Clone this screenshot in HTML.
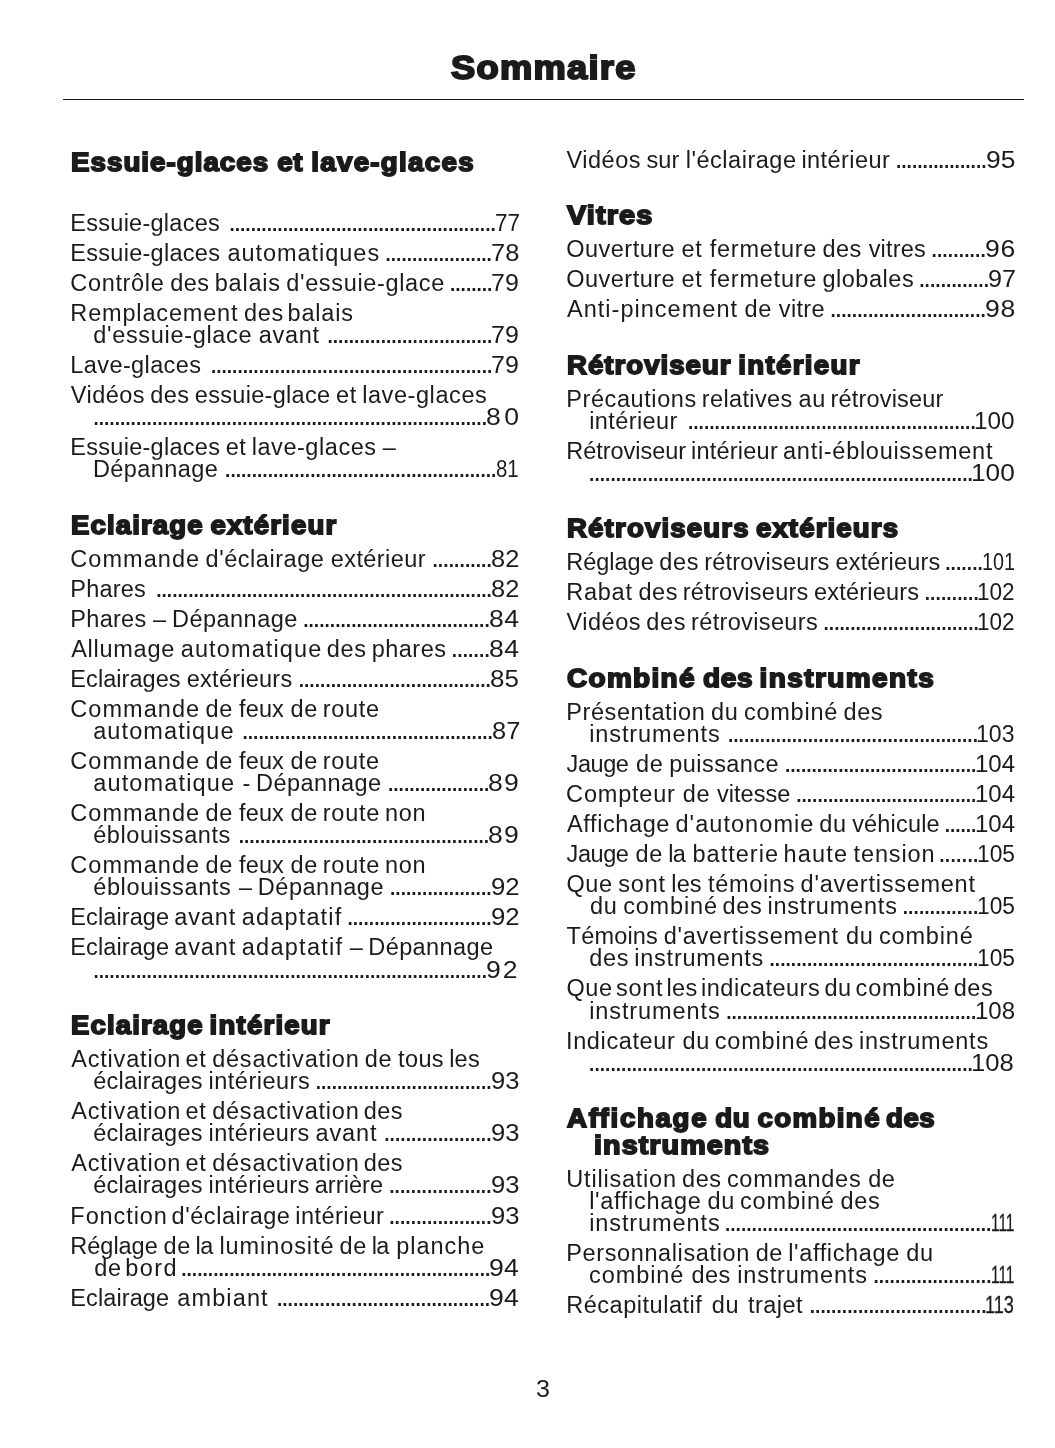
<!DOCTYPE html>
<html lang="fr">
<head>
<meta charset="utf-8">
<title>Sommaire</title>
<style>
html,body{margin:0;padding:0;background:#fff}
body{width:1055px;height:1448px;position:relative;overflow:hidden;color:#1b1b1b;font-family:"Liberation Sans",sans-serif;font-size:23.5px;line-height:0}
h1,h2,p{margin:0;padding:0;font:inherit}
.t,.d,.n,.h,h1,footer{position:absolute;display:block;white-space:pre;line-height:0;transform-origin:0 0}
h1{font-size:33.5px;font-weight:bold;letter-spacing:1.2px;-webkit-text-stroke:2.0px #1b1b1b;}
.h{font-size:26.5px;font-weight:bold;letter-spacing:1px;-webkit-text-stroke:1.8px #1b1b1b;}
.c{-webkit-text-stroke:0.3px #1b1b1b}
.d{font-size:28.0px;letter-spacing:-2.48px}
footer{font-size:23.5px}
hr{position:absolute;margin:0;border:0;left:63px;width:960.5px;top:98.9px;height:1.2px;background:#1b1b1b}
</style>
</head>
<body>
<header>
<h1 style="left:450.79px;top:68px;transform:scaleX(1.082)">Sommaire</h1>
<hr>
</header>
<main>
<section>
<h2><span class="h" style="left:71.39px;top:162px;transform:scaleX(1.0457)"><span style="letter-spacing:0.98px">Essuie-glaces</span> <span style="margin-left:-0.65px;letter-spacing:0.65px">et</span> <span style="margin-left:-0.79px;letter-spacing:1.24px">lave-glaces</span></span></h2>
<p><span class="t" style="left:70.37px;top:223px;letter-spacing:0.26px">Essuie-glaces</span> <span class="d" style="left:228.14px;top:222px;letter-spacing:-2.45px">..................................................</span> <span class="n" style="left:495.05px;top:223px;transform:scaleX(0.9556)">77</span></p>
<p><span class="t" style="left:70.37px;top:253px"><span style="letter-spacing:0.27px">Essuie-glaces</span> <span style="margin-left:0.69px;letter-spacing:0.97px">automatiques</span></span> <span class="d" style="left:384.24px;top:252px;letter-spacing:-2.46px">....................</span> <span class="n" style="left:490.7px;top:253px;transform:scaleX(1.083)">78</span></p>
<p><span class="t" style="left:70.26px;top:283px"><span style="letter-spacing:0.68px">Contrôle</span> <span style="margin-left:-0.78px;letter-spacing:0.42px">des</span> <span style="margin-left:-1.29px;letter-spacing:0.8px">balais</span> <span style="margin-left:-1.14px;letter-spacing:0.65px">d'essuie-glace</span></span> <span class="d" style="left:448.74px;top:282px;letter-spacing:-2.48px">........</span> <span class="n" style="left:491.32px;top:283px;transform:scaleX(1.062)">79</span></p>
<p><span class="t" style="left:70.37px;top:313px"><span style="letter-spacing:0.83px">Remplacement</span> <span style="margin-left:-0.93px;letter-spacing:0.64px">des</span> <span style="margin-left:-2.81px;letter-spacing:0.8px">balais</span></span> <span class="t" style="left:93.31px;top:335px"><span style="letter-spacing:0.67px">d'essuie-glace</span> <span style="margin-left:0.1px;letter-spacing:0.68px">avant</span></span> <span class="d" style="left:326.24px;top:334px;letter-spacing:-2.46px">...............................</span> <span class="n" style="left:491.32px;top:335px;transform:scaleX(1.062)">79</span></p>
<p><span class="t" style="left:70.37px;top:365px;letter-spacing:0.39px">Lave-glaces</span> <span class="d" style="left:209.64px;top:364px;letter-spacing:-2.47px">.....................................................</span> <span class="n" style="left:491.32px;top:365px;transform:scaleX(1.062)">79</span></p>
<p><span class="t" style="left:70.75px;top:395px"><span style="letter-spacing:0.46px">Vidéos</span> <span style="margin-left:-1.23px;letter-spacing:0.42px">des</span> <span style="margin-left:-1.21px;letter-spacing:0.31px">essuie-glace</span> <span style="margin-left:-0.89px;letter-spacing:0.65px">et</span> <span style="margin-left:-1.38px;letter-spacing:0.58px">lave-glaces</span></span> <span class="d" style="left:92.14px;top:416px;letter-spacing:-2.46px">..........................................................................</span> <span class="n" style="left:485.85px;top:417px;letter-spacing:3.14px;transform:scaleX(1.13)">80</span></p>
<p><span class="t" style="left:70.37px;top:447px"><span style="letter-spacing:0.27px">Essuie-glaces</span> <span style="margin-left:-1.09px;letter-spacing:0.65px">et</span> <span style="margin-left:-1.38px;letter-spacing:0.55px">lave-glaces</span> <span style="margin-left:-0.51px">–</span></span> <span class="t" style="left:92.97px;top:469px;letter-spacing:0.43px">Dépannage</span> <span class="d" style="left:223.84px;top:468px;letter-spacing:-2.46px">...................................................</span> <span class="n" style="left:495.86px;top:469px;transform:scaleX(0.8698)">81</span></p>
<h2><span class="h" style="left:71.39px;top:525px;transform:scaleX(1.0389)"><span style="letter-spacing:1.09px">Eclairage</span> <span style="margin-left:-1.88px;letter-spacing:1.13px">extérieur</span></span></h2>
<p><span class="t" style="left:70.26px;top:559px"><span style="letter-spacing:1.06px">Commande</span> <span style="margin-left:-1.16px;letter-spacing:0.54px">d'éclairage</span> <span style="margin-left:-0.21px;letter-spacing:0.41px">extérieur</span></span> <span class="d" style="left:431.19px;top:558px;letter-spacing:-2.37px">...........</span> <span class="n" style="left:490.9px;top:559px;transform:scaleX(1.082)">82</span></p>
<p><span class="t" style="left:70.37px;top:589px;letter-spacing:0.2px">Phares</span> <span class="d" style="left:154.94px;top:588px;letter-spacing:-2.45px">...............................................................</span> <span class="n" style="left:490.9px;top:589px;transform:scaleX(1.082)">82</span></p>
<p><span class="t" style="left:70.37px;top:619px"><span style="letter-spacing:0.27px">Phares</span> <span style="margin-left:0.08px">–</span> <span style="margin-left:-0.74px;letter-spacing:0.48px">Dépannage</span></span> <span class="d" style="left:301.94px;top:618px;letter-spacing:-2.45px">...................................</span> <span class="n" style="left:488.85px;top:619px;letter-spacing:0.52px;transform:scaleX(1.13)">84</span></p>
<p><span class="t" style="left:71.15px;top:649px"><span style="letter-spacing:0.74px">Allumage</span> <span style="margin-left:-0.85px;letter-spacing:1.12px">automatique</span> <span style="margin-left:-2.09px;letter-spacing:0.64px">des</span> <span style="margin-left:-1.51px;letter-spacing:0.48px">phares</span></span> <span class="d" style="left:450.44px;top:648px;letter-spacing:-2.31px">.......</span> <span class="n" style="left:488.85px;top:649px;letter-spacing:0.52px;transform:scaleX(1.13)">84</span></p>
<p><span class="t" style="left:70.37px;top:679px"><span style="letter-spacing:0.06px">Eclairages</span> <span style="margin-left:-0.41px;letter-spacing:0.24px">extérieurs</span></span> <span class="d" style="left:297.44px;top:678px;letter-spacing:-2.44px">....................................</span> <span class="n" style="left:490.12px;top:679px;transform:scaleX(1.1043)">85</span></p>
<p><span class="t" style="left:70.26px;top:709px"><span style="letter-spacing:1.06px">Commande</span> <span style="margin-left:-1.19px;letter-spacing:0.65px">de</span> <span style="margin-left:-0.57px;letter-spacing:0.16px">feux</span> <span style="margin-left:0.06px;letter-spacing:0.65px">de</span> <span style="margin-left:-1.79px;letter-spacing:0.68px">route</span></span> <span class="t" style="left:93.2px;top:731px;letter-spacing:1.1px">automatique</span> <span class="d" style="left:241.19px;top:730px;letter-spacing:-2.45px">...............................................</span> <span class="n" style="left:491.9px;top:731px;transform:scaleX(1.082)">87</span></p>
<p><span class="t" style="left:70.26px;top:761px"><span style="letter-spacing:1.06px">Commande</span> <span style="margin-left:-1.19px;letter-spacing:0.65px">de</span> <span style="margin-left:-0.57px;letter-spacing:0.16px">feux</span> <span style="margin-left:0.06px;letter-spacing:0.65px">de</span> <span style="margin-left:-1.79px;letter-spacing:0.68px">route</span></span> <span class="t" style="left:93.2px;top:783px"><span style="letter-spacing:1.15px">automatique</span> <span style="margin-left:0.76px">-</span> <span style="margin-left:-0.72px;letter-spacing:0.43px">Dépannage</span></span> <span class="d" style="left:386.69px;top:782px;letter-spacing:-2.44px">...................</span> <span class="n" style="left:488.35px;top:783px;letter-spacing:1.13px;transform:scaleX(1.13)">89</span></p>
<p><span class="t" style="left:70.26px;top:813px"><span style="letter-spacing:1.06px">Commande</span> <span style="margin-left:-1.19px;letter-spacing:0.65px">de</span> <span style="margin-left:-0.57px;letter-spacing:0.16px">feux</span> <span style="margin-left:0.06px;letter-spacing:0.65px">de</span> <span style="margin-left:-1.79px;letter-spacing:0.73px">route</span> <span style="margin-left:-1.6px;letter-spacing:0.65px">non</span></span> <span class="t" style="left:93.2px;top:835px;letter-spacing:0.59px">éblouissants</span> <span class="d" style="left:237.44px;top:834px;letter-spacing:-2.45px">...............................................</span> <span class="n" style="left:488.35px;top:835px;letter-spacing:1.13px;transform:scaleX(1.13)">89</span></p>
<p><span class="t" style="left:70.26px;top:865px"><span style="letter-spacing:1.06px">Commande</span> <span style="margin-left:-1.19px;letter-spacing:0.65px">de</span> <span style="margin-left:-0.57px;letter-spacing:0.16px">feux</span> <span style="margin-left:0.06px;letter-spacing:0.65px">de</span> <span style="margin-left:-1.79px;letter-spacing:0.73px">route</span> <span style="margin-left:-1.6px;letter-spacing:0.65px">non</span></span> <span class="t" style="left:93.2px;top:887px"><span style="letter-spacing:0.63px">éblouissants</span> <span style="margin-left:1.03px">–</span> <span style="margin-left:-0.74px;letter-spacing:0.52px">Dépannage</span></span> <span class="d" style="left:388.69px;top:886px;letter-spacing:-2.43px">...................</span> <span class="n" style="left:490.54px;top:887px;transform:scaleX(1.0961)">92</span></p>
<p><span class="t" style="left:70.37px;top:917px"><span style="letter-spacing:0.09px">Eclairage</span> <span style="margin-left:-1.51px;letter-spacing:0.92px">avant</span> <span style="margin-left:-1.03px;letter-spacing:1.16px">adaptatif</span></span> <span class="d" style="left:346.19px;top:916px;letter-spacing:-2.44px">...........................</span> <span class="n" style="left:490.54px;top:917px;transform:scaleX(1.0961)">92</span></p>
<p><span class="t" style="left:70.37px;top:947px"><span style="letter-spacing:0.09px">Eclairage</span> <span style="margin-left:-1.51px;letter-spacing:0.92px">avant</span> <span style="margin-left:-1.03px;letter-spacing:1.26px">adaptatif</span> <span style="margin-left:-0.02px">–</span> <span style="margin-left:-1.17px;letter-spacing:0.42px">Dépannage</span></span> <span class="d" style="left:92.14px;top:969px;letter-spacing:-2.46px">..........................................................................</span> <span class="n" style="left:486.26px;top:970px;letter-spacing:1.81px;transform:scaleX(1.13)">92</span></p>
<h2><span class="h" style="left:71.39px;top:1025px;transform:scaleX(1.0375)"><span style="letter-spacing:1.11px">Eclairage</span> <span style="margin-left:-2.71px;letter-spacing:1.21px">intérieur</span></span></h2>
<p><span class="t" style="left:71.15px;top:1059px"><span style="letter-spacing:0.82px">Activation</span> <span style="margin-left:-2.32px;letter-spacing:0.65px">et</span> <span style="margin-left:-0.78px;letter-spacing:0.79px">désactivation</span> <span style="margin-left:-1.41px;letter-spacing:0.65px">de</span> <span style="margin-left:-0.59px;letter-spacing:0.36px">tous</span> <span style="margin-left:-1.3px;letter-spacing:0.2px">les</span></span> <span class="t" style="left:93.2px;top:1081px"><span style="letter-spacing:0.24px">éclairages</span> <span style="margin-left:-0.72px;letter-spacing:0.5px">intérieurs</span></span> <span class="d" style="left:314.44px;top:1080px;letter-spacing:-2.45px">.................................</span> <span class="n" style="left:490.55px;top:1081px;transform:scaleX(1.0893)">93</span></p>
<p><span class="t" style="left:71.15px;top:1111px"><span style="letter-spacing:0.82px">Activation</span> <span style="margin-left:-2.32px;letter-spacing:0.65px">et</span> <span style="margin-left:-0.78px;letter-spacing:0.79px">désactivation</span> <span style="margin-left:-2.24px;letter-spacing:0.43px">des</span></span> <span class="t" style="left:93.2px;top:1133px"><span style="letter-spacing:0.24px">éclairages</span> <span style="margin-left:-0.72px;letter-spacing:0.46px">intérieurs</span> <span style="margin-left:-0.81px;letter-spacing:0.87px">avant</span></span> <span class="d" style="left:382.94px;top:1132px;letter-spacing:-2.41px">....................</span> <span class="n" style="left:490.55px;top:1133px;transform:scaleX(1.0893)">93</span></p>
<p><span class="t" style="left:71.15px;top:1163px"><span style="letter-spacing:0.82px">Activation</span> <span style="margin-left:-2.32px;letter-spacing:0.65px">et</span> <span style="margin-left:-0.78px;letter-spacing:0.79px">désactivation</span> <span style="margin-left:-2.24px;letter-spacing:0.43px">des</span></span> <span class="t" style="left:93.2px;top:1185px"><span style="letter-spacing:0.24px">éclairages</span> <span style="margin-left:-0.72px;letter-spacing:0.46px">intérieurs</span> <span style="margin-left:-1.68px;letter-spacing:0.09px">arrière</span></span> <span class="d" style="left:387.94px;top:1184px;letter-spacing:-2.39px">...................</span> <span class="n" style="left:490.55px;top:1185px;transform:scaleX(1.0893)">93</span></p>
<p><span class="t" style="left:70.37px;top:1216px"><span style="letter-spacing:0.92px">Fonction</span> <span style="margin-left:-2.81px;letter-spacing:0.54px">d'éclairage</span> <span style="margin-left:-1.66px;letter-spacing:0.44px">intérieur</span></span> <span class="d" style="left:387.94px;top:1215px;letter-spacing:-2.39px">...................</span> <span class="n" style="left:490.55px;top:1216px;transform:scaleX(1.0893)">93</span></p>
<p><span class="t" style="left:70.37px;top:1246px"><span style="letter-spacing:-0.03px">Réglage</span> <span style="margin-left:-0.76px;letter-spacing:0.65px">de</span> <span style="margin-left:-2.03px;letter-spacing:-0.31px">la</span> <span style="margin-left:-0.21px;letter-spacing:0.92px">luminosité</span> <span style="margin-left:-1.49px;letter-spacing:0.65px">de</span> <span style="margin-left:-1.82px;letter-spacing:-0.74px">la</span> <span style="margin-left:1.16px;letter-spacing:0.99px">planche</span></span> <span class="t" style="left:94.25px;top:1268px"><span style="letter-spacing:0.65px">de</span> <span style="margin-left:-2.95px;letter-spacing:1.4px">bord</span></span> <span class="d" style="left:179.94px;top:1267px;letter-spacing:-2.45px">..........................................................</span> <span class="n" style="left:489.26px;top:1268px;letter-spacing:0.16px;transform:scaleX(1.13)">94</span></p>
<p><span class="t" style="left:70.37px;top:1298px"><span style="letter-spacing:0.09px">Eclairage</span> <span style="margin-left:1.54px;letter-spacing:1.14px">ambiant</span></span> <span class="d" style="left:275.69px;top:1297px;letter-spacing:-2.45px">........................................</span> <span class="n" style="left:489.26px;top:1298px;letter-spacing:0.16px;transform:scaleX(1.13)">94</span></p>
</section>
<section>
<p><span class="t" style="left:566.6px;top:160px"><span style="letter-spacing:0.49px">Vidéos</span> <span style="margin-left:-0.93px;letter-spacing:0.03px">sur</span> <span style="margin-left:-0.07px;letter-spacing:0.51px">l'éclairage</span> <span style="margin-left:-1.63px;letter-spacing:0.43px">intérieur</span></span> <span class="d" style="left:894.69px;top:159px;letter-spacing:-2.45px">.................</span> <span class="n" style="left:985.51px;top:160px;transform:scaleX(1.1226)">95</span></p>
<h2><span class="h" style="left:567.48px;top:215px;transform:scaleX(1.0899)">Vitres</span></h2>
<p><span class="t" style="left:566.19px;top:249px"><span style="letter-spacing:0.5px">Ouverture</span> <span style="margin-left:-0.21px;letter-spacing:0.65px">et</span> <span style="margin-left:0.74px;letter-spacing:0.77px">fermeture</span> <span style="margin-left:-1.3px;letter-spacing:0.42px">des</span> <span style="margin-left:0.58px;letter-spacing:0.17px">vitres</span></span> <span class="d" style="left:930.19px;top:248px;letter-spacing:-2.33px">..........</span> <span class="n" style="left:984.76px;top:249px;letter-spacing:0.55px;transform:scaleX(1.13)">96</span></p>
<p><span class="t" style="left:566.19px;top:279px"><span style="letter-spacing:0.5px">Ouverture</span> <span style="margin-left:-0.21px;letter-spacing:0.65px">et</span> <span style="margin-left:0.74px;letter-spacing:0.77px">fermeture</span> <span style="margin-left:-1.3px;letter-spacing:0.53px">globales</span></span> <span class="d" style="left:917.94px;top:278px;letter-spacing:-2.4px">.............</span> <span class="n" style="left:988.07px;top:279px;transform:scaleX(1.0689)">97</span></p>
<p><span class="t" style="left:567px;top:309px"><span style="letter-spacing:1.02px">Anti-pincement</span> <span style="margin-left:-0.06px;letter-spacing:0.65px">de</span> <span style="margin-left:0.34px;letter-spacing:0.34px">vitre</span></span> <span class="d" style="left:829.19px;top:308px;letter-spacing:-2.42px">.............................</span> <span class="n" style="left:984.76px;top:309px;letter-spacing:0.54px;transform:scaleX(1.13)">98</span></p>
<h2><span class="h" style="left:567.24px;top:365px;transform:scaleX(1.0421)"><span style="letter-spacing:0.97px">Rétroviseur</span> <span style="margin-left:-2px;letter-spacing:1.29px">intérieur</span></span></h2>
<p><span class="t" style="left:566.22px;top:399px"><span style="letter-spacing:0.59px">Précautions</span> <span style="margin-left:-1.51px;letter-spacing:0.35px">relatives</span> <span style="margin-left:-0.47px;letter-spacing:0.65px">au</span> <span style="margin-left:-2.05px;letter-spacing:0.19px">rétroviseur</span></span> <span class="t" style="left:589.18px;top:421px;letter-spacing:0.41px">intérieur</span> <span class="d" style="left:686.69px;top:420px;letter-spacing:-2.45px">......................................................</span> <span class="n" style="left:974.15px;top:421px;transform:scaleX(1.0339)">100</span></p>
<p><span class="t" style="left:566.22px;top:451px"><span style="letter-spacing:-0.02px">Rétroviseur</span> <span style="margin-left:-1.76px;letter-spacing:0.24px">intérieur</span> <span style="margin-left:-1.44px;letter-spacing:0.71px">anti-éblouissement</span></span> <span class="d" style="left:587.84px;top:472px;letter-spacing:-2.45px">........................................................................</span> <span class="n" style="left:971px;top:473px;transform:scaleX(1.1161)">100</span></p>
<h2><span class="h" style="left:567.24px;top:528px;transform:scaleX(1.0405)"><span style="letter-spacing:1.14px">Rétroviseurs</span> <span style="margin-left:-2.54px;letter-spacing:1.1px">extérieurs</span></span></h2>
<p><span class="t" style="left:566.22px;top:562px"><span style="letter-spacing:0px">Réglage</span> <span style="margin-left:-0.97px;letter-spacing:0.64px">des</span> <span style="margin-left:-1.55px;letter-spacing:0.22px">rétroviseurs</span> <span style="margin-left:-0.57px;letter-spacing:0.17px">extérieurs</span></span> <span class="d" style="left:943.94px;top:561px;letter-spacing:-2.39px">.......</span> <span class="n" style="left:981.5px;top:562px;transform:scaleX(0.8393)">101</span></p>
<p><span class="t" style="left:566.22px;top:592px"><span style="letter-spacing:0.75px">Rabat</span> <span style="margin-left:-0.85px;letter-spacing:0.64px">des</span> <span style="margin-left:-1.99px;letter-spacing:0.26px">rétroviseurs</span> <span style="margin-left:-1.05px;letter-spacing:0.18px">extérieurs</span></span> <span class="d" style="left:923.44px;top:591px;letter-spacing:-2.36px">..........</span> <span class="n" style="left:977.28px;top:592px;transform:scaleX(0.9587)">102</span></p>
<p><span class="t" style="left:566.6px;top:622px"><span style="letter-spacing:0.49px">Vidéos</span> <span style="margin-left:-1.26px;letter-spacing:0.64px">des</span> <span style="margin-left:-1.55px;letter-spacing:0.35px">rétroviseurs</span></span> <span class="d" style="left:822.19px;top:621px;letter-spacing:-2.42px">.............................</span> <span class="n" style="left:977.28px;top:622px;transform:scaleX(0.9587)">102</span></p>
<h2><span class="h" style="left:567.1px;top:678px;transform:scaleX(1.0552)"><span style="letter-spacing:1.24px">Combiné</span> <span style="margin-left:-1.61px;letter-spacing:0.65px">des</span> <span style="margin-left:-2.38px;letter-spacing:1.34px">instruments</span></span></h2>
<p><span class="t" style="left:566.22px;top:712px"><span style="letter-spacing:0.6px">Présentation</span> <span style="margin-left:-0.96px;letter-spacing:0.65px">du</span> <span style="margin-left:-1.05px;letter-spacing:0.77px">combiné</span> <span style="margin-left:-1.24px;letter-spacing:0.65px">des</span></span> <span class="t" style="left:589.18px;top:734px;letter-spacing:0.9px">instruments</span> <span class="d" style="left:726.69px;top:733px;letter-spacing:-2.46px">...............................................</span> <span class="n" style="left:976.24px;top:734px;transform:scaleX(0.9823)">103</span></p>
<p><span class="t" style="left:566.58px;top:764px"><span style="letter-spacing:-0.43px">Jauge</span> <span style="margin-left:0.95px;letter-spacing:0.65px">de</span> <span style="margin-left:-0.66px;letter-spacing:0.44px">puissance</span></span> <span class="d" style="left:783.69px;top:763px;letter-spacing:-2.46px">....................................</span> <span class="n" style="left:974.67px;top:764px;transform:scaleX(1.022)">104</span></p>
<p><span class="t" style="left:566.11px;top:794px"><span style="letter-spacing:0.8px">Compteur</span> <span style="margin-left:0.59px;letter-spacing:0.65px">de</span> <span style="margin-left:0.12px;letter-spacing:0.05px">vitesse</span></span> <span class="d" style="left:794.94px;top:793px">..................................</span> <span class="n" style="left:974.67px;top:794px;transform:scaleX(1.022)">104</span></p>
<p><span class="t" style="left:567px;top:824px"><span style="letter-spacing:0.61px">Affichage</span> <span style="margin-left:-1.14px;letter-spacing:1.06px">d'autonomie</span> <span style="margin-left:-1.81px;letter-spacing:0.65px">du</span> <span style="margin-left:-1.01px;letter-spacing:0.18px">véhicule</span></span> <span class="d" style="left:943.44px;top:823px;letter-spacing:-2.51px">......</span> <span class="n" style="left:974.67px;top:824px;transform:scaleX(1.022)">104</span></p>
<p><span class="t" style="left:566.58px;top:854px"><span style="letter-spacing:-0.43px">Jauge</span> <span style="margin-left:0.52px;letter-spacing:0.65px">de</span> <span style="margin-left:-1.16px;letter-spacing:-0.74px">la</span> <span style="margin-left:0.73px;letter-spacing:1.04px">batterie</span> <span style="margin-left:-2.22px;letter-spacing:1.18px">haute</span> <span style="margin-left:-1.09px;letter-spacing:0.87px">tension</span></span> <span class="d" style="left:937.94px;top:853px;letter-spacing:-2.14px">.......</span> <span class="n" style="left:976.77px;top:854px;transform:scaleX(0.9673)">105</span></p>
<p><span class="t" style="left:566.39px;top:884px"><span style="letter-spacing:0.65px">Que</span> <span style="margin-left:-1.08px;letter-spacing:0.82px">sont</span> <span style="margin-left:-1.08px;letter-spacing:0.06px">les</span> <span style="margin-left:-0.21px;letter-spacing:0.7px">témoins</span> <span style="margin-left:-1.04px;letter-spacing:0.75px">d'avertissement</span></span> <span class="t" style="left:590px;top:906px"><span style="letter-spacing:0.65px">du</span> <span style="margin-left:-0.87px;letter-spacing:0.84px">combiné</span> <span style="margin-left:-1.81px;letter-spacing:0.64px">des</span> <span style="margin-left:-1.56px;letter-spacing:0.81px">instruments</span></span> <span class="d" style="left:901.44px;top:905px;letter-spacing:-2.37px">..............</span> <span class="n" style="left:976.77px;top:906px;transform:scaleX(0.9673)">105</span></p>
<p><span class="t" style="left:566.62px;top:936px"><span style="letter-spacing:0.19px">Témoins</span> <span style="margin-left:-0.97px;letter-spacing:0.76px">d'avertissement</span> <span style="margin-left:0.67px;letter-spacing:0.65px">du</span> <span style="margin-left:-1.05px;letter-spacing:0.82px">combiné</span></span> <span class="t" style="left:589.33px;top:958px"><span style="letter-spacing:0.65px">des</span> <span style="margin-left:-1.41px;letter-spacing:0.76px">instruments</span></span> <span class="d" style="left:768.19px;top:957px;letter-spacing:-2.42px">.......................................</span> <span class="n" style="left:976.77px;top:958px;transform:scaleX(0.9673)">105</span></p>
<p><span class="t" style="left:566.39px;top:988px"><span style="letter-spacing:0.65px">Que</span> <span style="margin-left:-3.26px;letter-spacing:0.67px">sont</span> <span style="margin-left:-3.11px;letter-spacing:0.28px">les</span> <span style="margin-left:-2.95px;letter-spacing:0.5px">indicateurs</span> <span style="margin-left:-2.36px;letter-spacing:0.65px">du</span> <span style="margin-left:-2.8px;letter-spacing:0.84px">combiné</span> <span style="margin-left:-3.12px;letter-spacing:0.56px">des</span></span> <span class="t" style="left:589.18px;top:1011px;letter-spacing:0.9px">instruments</span> <span class="d" style="left:724.94px;top:1010px;letter-spacing:-2.46px">...............................................</span> <span class="n" style="left:974.67px;top:1011px;transform:scaleX(1.0231)">108</span></p>
<p><span class="t" style="left:565.98px;top:1041px"><span style="letter-spacing:0.63px">Indicateur</span> <span style="margin-left:0.58px;letter-spacing:0.65px">du</span> <span style="margin-left:-1.93px;letter-spacing:0.84px">combiné</span> <span style="margin-left:-1.81px;letter-spacing:0.64px">des</span> <span style="margin-left:-1.56px;letter-spacing:0.78px">instruments</span></span> <span class="d" style="left:587.84px;top:1062px;letter-spacing:-2.45px">........................................................................</span> <span class="n" style="left:971.05px;top:1063px;transform:scaleX(1.0918)">108</span></p>
<h2><span class="h" style="left:567.3px;top:1118px;transform:scaleX(1.042)"><span style="letter-spacing:1.65px">Affichage</span> <span style="margin-left:-1.71px;letter-spacing:0.65px">du</span> <span style="margin-left:-1.5px;letter-spacing:1.35px">combiné</span> <span style="margin-left:-3.45px;letter-spacing:0.52px">des</span></span> <span class="h" style="left:593.97px;top:1145px;transform:scaleX(1.0823)">instruments</span></h2>
<p><span class="t" style="left:566.34px;top:1179px"><span style="letter-spacing:0.78px">Utilisation</span> <span style="margin-left:-1.36px;letter-spacing:0.64px">des</span> <span style="margin-left:-1.43px;letter-spacing:0.72px">commandes</span> <span style="margin-left:0.24px;letter-spacing:0.65px">de</span></span> <span class="t" style="left:589.17px;top:1201px"><span style="letter-spacing:0.7px">l'affichage</span> <span style="margin-left:-0.57px;letter-spacing:0.65px">du</span> <span style="margin-left:-1.49px;letter-spacing:0.84px">combiné</span> <span style="margin-left:-0.82px;letter-spacing:0.65px">des</span></span> <span class="t" style="left:589.18px;top:1223px;letter-spacing:0.9px">instruments</span> <span class="d" style="left:723.69px;top:1222px;letter-spacing:-2.45px">..................................................</span> <span class="n c" style="left:990.67px;top:1223px;transform:scaleX(0.6557)">111</span></p>
<p><span class="t" style="left:566.22px;top:1253px"><span style="letter-spacing:0.62px">Personnalisation</span> <span style="margin-left:-0.8px;letter-spacing:0.65px">de</span> <span style="margin-left:-1.38px;letter-spacing:0.64px">l'affichage</span> <span style="margin-left:-0.26px;letter-spacing:0.65px">du</span></span> <span class="t" style="left:589.05px;top:1275px"><span style="letter-spacing:0.92px">combiné</span> <span style="margin-left:0.73px;letter-spacing:0.42px">des</span> <span style="margin-left:-0.04px;letter-spacing:0.82px">instruments</span></span> <span class="d" style="left:872.19px;top:1274px;letter-spacing:-2.41px">......................</span> <span class="n c" style="left:990.67px;top:1275px;transform:scaleX(0.6557)">111</span></p>
<p><span class="t" style="left:566.22px;top:1305px"><span style="letter-spacing:0.53px">Récapitulatif</span> <span style="margin-left:2.85px;letter-spacing:0.65px">du</span> <span style="margin-left:2.21px;letter-spacing:0.44px">trajet</span></span> <span class="d" style="left:808.44px;top:1304px;letter-spacing:-2.42px">.................................</span> <span class="n c" style="left:985.48px;top:1305px;transform:scaleX(0.7726)">113</span></p>
</section>
</main>
<footer style="left:535.94px;top:1389px;transform:scaleX(1.0672)">3</footer>
</body>
</html>
